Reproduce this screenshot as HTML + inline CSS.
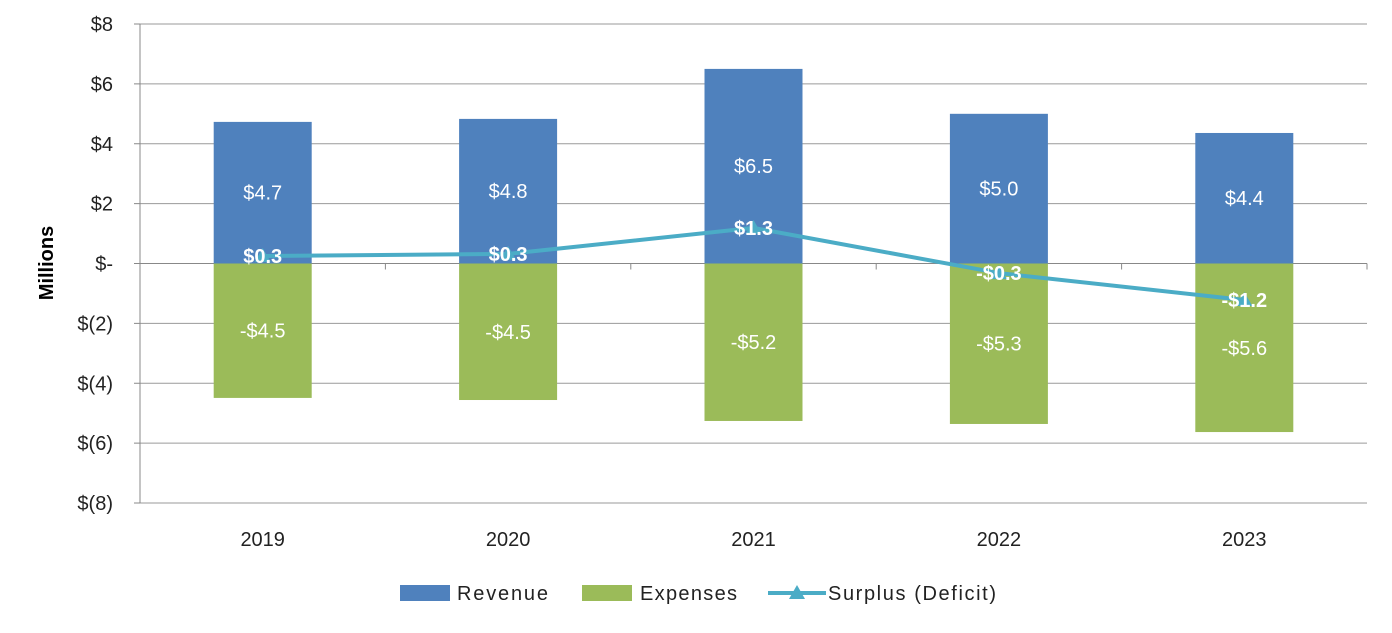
<!DOCTYPE html>
<html><head><meta charset="utf-8"><style>
body{margin:0;background:#fff}
svg text{font-family:"Liberation Sans",sans-serif}
</style></head><body>
<svg width="1392" height="628" viewBox="0 0 1392 628">
<g id="grid"></g><g id="bars"></g><g id="line"></g><g id="labels"></g><g id="axes"></g>
<g>
<rect x="400" y="585" width="50" height="16" fill="#4F81BD"/>
<text x="457" y="600" font-size="20" fill="#222" textLength="91">Revenue</text>
<rect x="582" y="585" width="50" height="16" fill="#9BBB59"/>
<text x="640" y="600" font-size="20" fill="#222" textLength="97">Expenses</text>
<line x1="768" y1="593" x2="826" y2="593" stroke="#4BACC6" stroke-width="4"/>
<polygon points="797,585 805,599 789,599" fill="#4BACC6"/>
<text x="828" y="600" font-size="20" fill="#222" textLength="168">Surplus (Deficit)</text>
</g>
<text transform="translate(53,263) rotate(-90)" text-anchor="middle" font-size="20" font-weight="bold" fill="#000">Millions</text>
</svg>
<script>
const categories=['2019','2020','2021','2022','2023'];
const revenue=[4.73,4.83,6.5,5.0,4.36];
const expenses=[-4.49,-4.56,-5.26,-5.36,-5.63];
const surplus=[0.25,0.32,1.19,-0.32,-1.22];
const revenueLabels=['$4.7','$4.8','$6.5','$5.0','$4.4'];
const expenseLabels=['-$4.5','-$4.5','-$5.2','-$5.3','-$5.6'];
const surplusLabels=['$0.3','$0.3','$1.3','-$0.3','-$1.2'];
const yTicks=[8,6,4,2,0,-2,-4,-6,-8];
const yTickLabels=['$8','$6','$4','$2','$-','$(2)','$(4)','$(6)','$(8)'];
const NS='http://www.w3.org/2000/svg';
const L=140,R=1367,T=24,B=503;
const y=v=>T+(8-v)*(B-T)/16;
const step=(R-L)/categories.length;
const x=i=>L+step*(i+0.5);
const bw=98;
function mk(tag,attrs,parent,text){const e=document.createElementNS(NS,tag);for(const k in attrs)e.setAttribute(k,attrs[k]);if(text!==undefined)e.textContent=text;document.getElementById(parent).appendChild(e);return e;}
yTicks.forEach((t,i)=>{
 const g=mk('line',{x1:L,x2:R,y1:y(t),y2:y(t),stroke:t===0?'#888':'#9a9a9a','stroke-width':1},'grid');
 
 
 const tk=mk('line',{x1:L-6,x2:L,y1:y(t),y2:y(t),stroke:'#888'},'axes');
 
 
 const tl=mk('text',{x:113,y:y(t)+7,'text-anchor':'end','font-size':20,fill:'#222'},'axes',yTickLabels[i]);
 
 
});
const ax=mk('line',{x1:L,x2:L,y1:T,y2:B,stroke:'#888'},'axes');


for(let i=0;i<=categories.length;i++){const t=mk('line',{x1:L+step*i,x2:L+step*i,y1:y(0),y2:y(0)+6,stroke:'#888'},'axes');}
categories.forEach((c,i)=>{
 const r=mk('rect',{x:x(i)-bw/2,y:y(revenue[i]),width:bw,height:y(0)-y(revenue[i]),fill:'#4F81BD'},'bars');
 
 
 const e=mk('rect',{x:x(i)-bw/2,y:y(0),width:bw,height:y(expenses[i])-y(0),fill:'#9BBB59'},'bars');
 
 
 const rl=mk('text',{x:x(i),y:(y(revenue[i])+y(0))/2+7,'text-anchor':'middle','font-size':20,fill:'#fff'},'labels',revenueLabels[i]);
 
 
 const el=mk('text',{x:x(i),y:(y(expenses[i])+y(0))/2+7,'text-anchor':'middle','font-size':20,fill:'#fff'},'labels',expenseLabels[i]);
 
 
 const sl=mk('text',{x:x(i),y:y(surplus[i])+7,'text-anchor':'middle','font-size':20,'font-weight':'bold',fill:'#fff'},'labels',surplusLabels[i]);
 
 
 const xl=mk('text',{x:x(i),y:546,'text-anchor':'middle','font-size':20,fill:'#222'},'axes',c);
 
 
 const m=mk('polygon',{points:`${x(i)},${y(surplus[i])-8} ${x(i)+8},${y(surplus[i])+6} ${x(i)-8},${y(surplus[i])+6}`,fill:'#4BACC6'},'line');
 
 
});
const pl=mk('polyline',{points:surplus.map((v,i)=>x(i)+','+y(v)).join(' '),fill:'none',stroke:'#4BACC6','stroke-width':4},'line');


document.getElementById('line').insertBefore(pl,document.getElementById('line').firstChild);
</script>
</body></html>
